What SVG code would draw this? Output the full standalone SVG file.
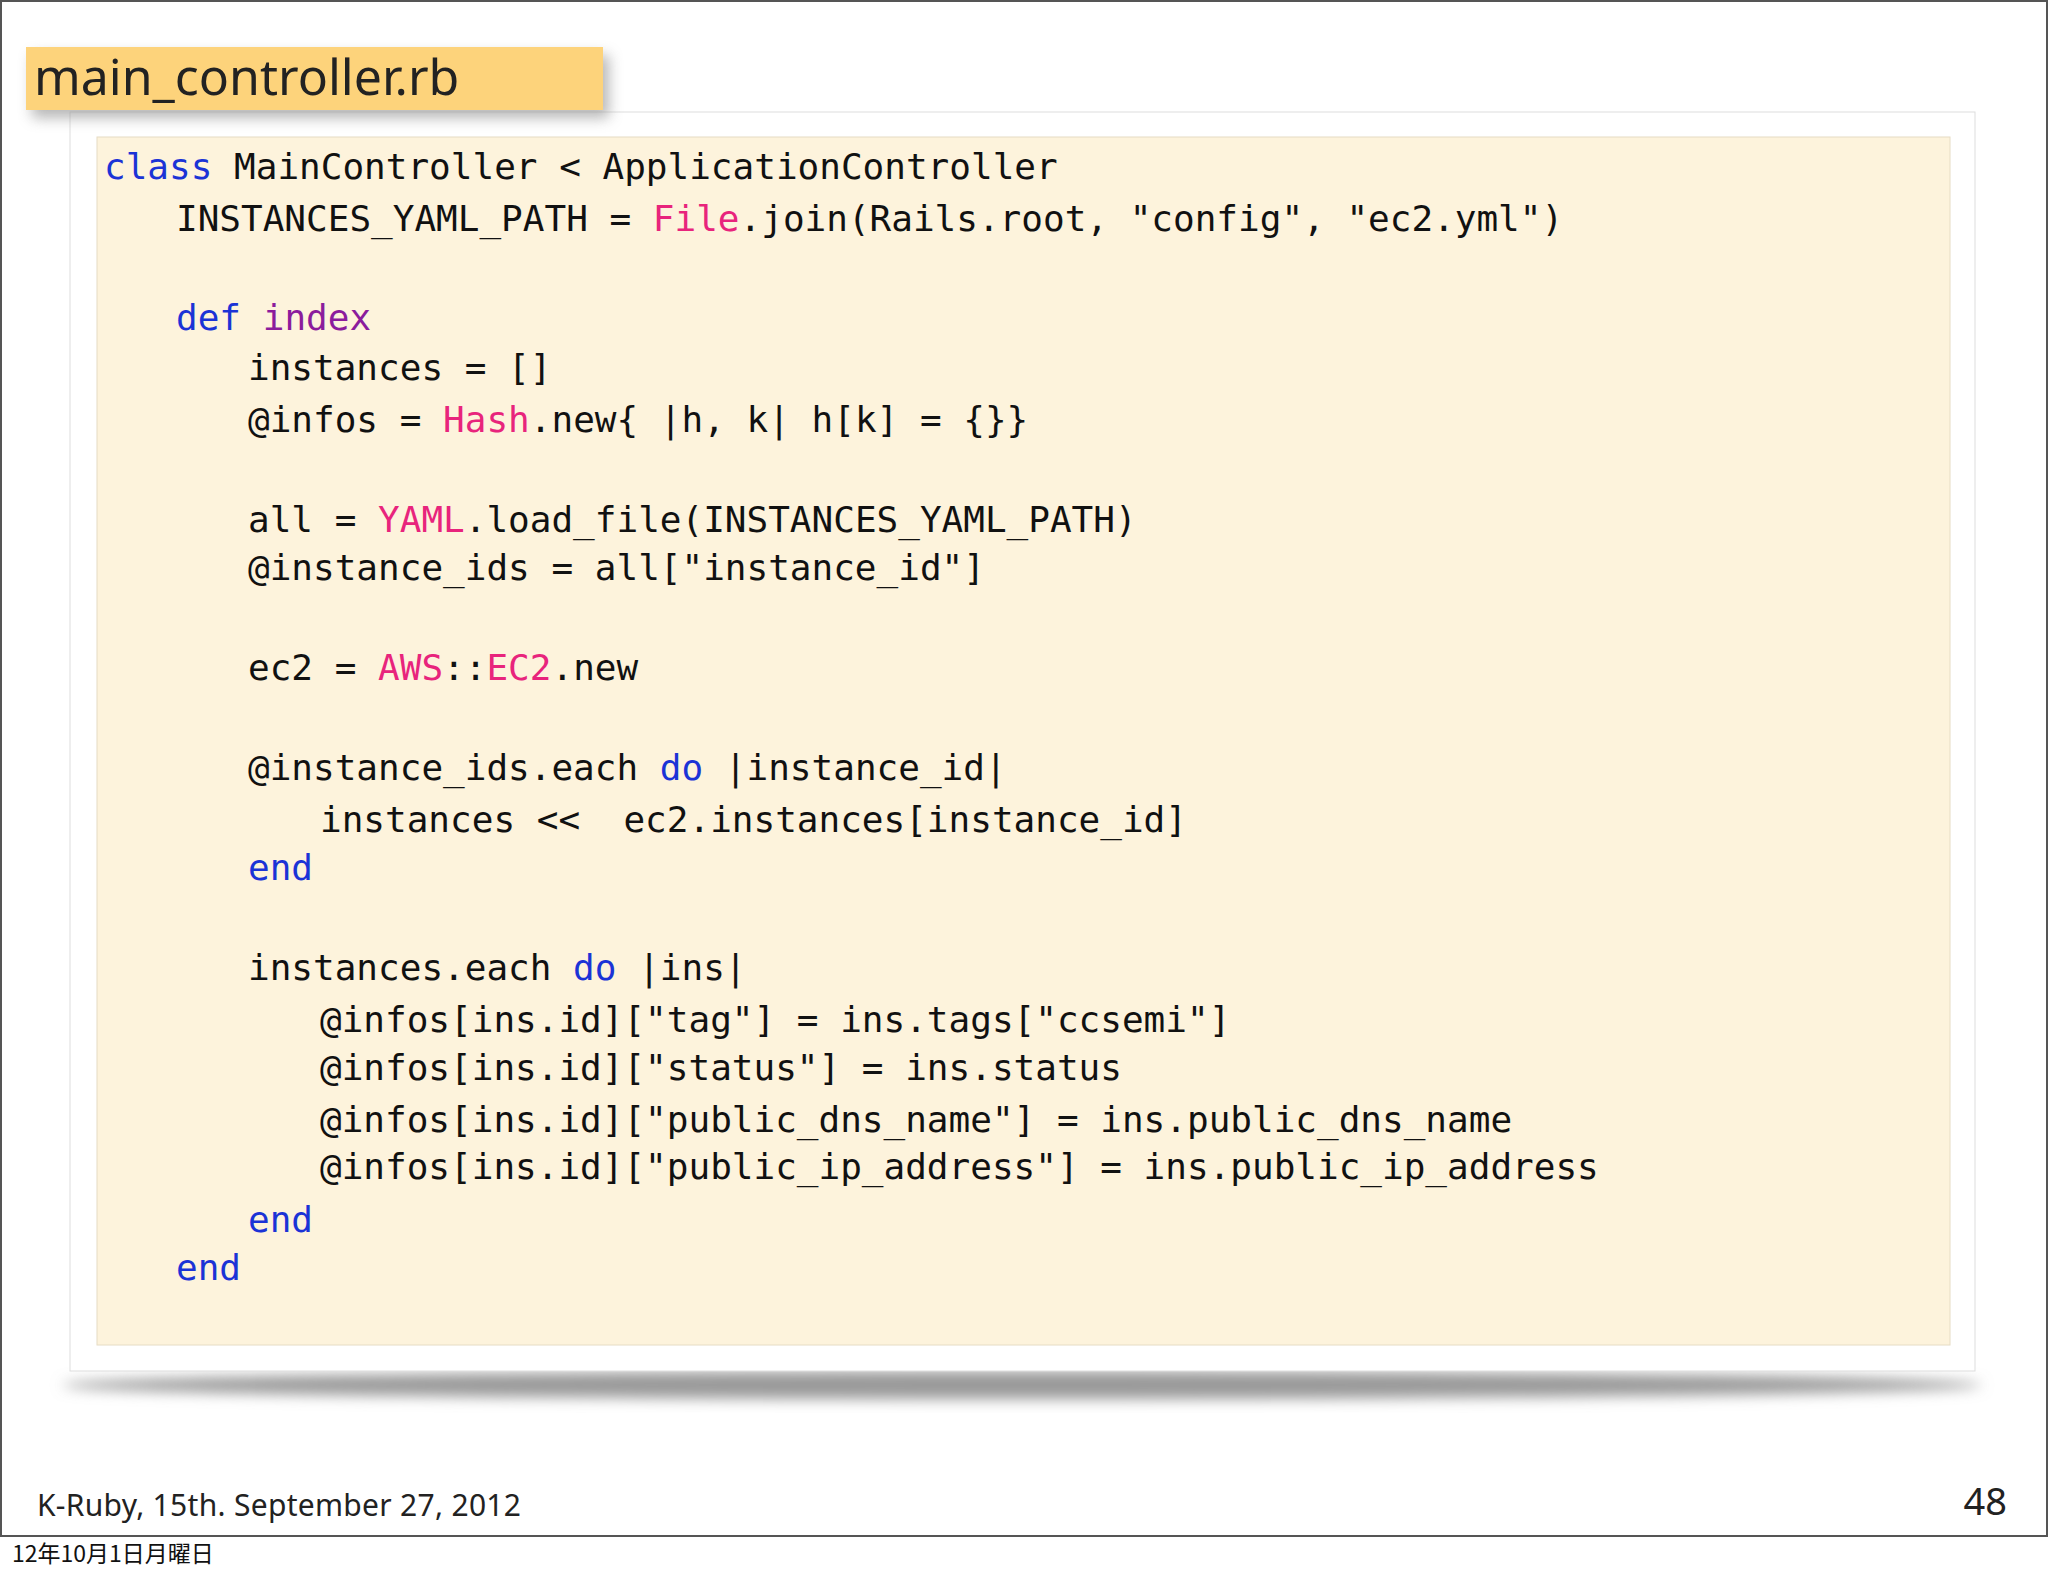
<svg xmlns="http://www.w3.org/2000/svg" width="2048" height="1576" viewBox="0 0 2048 1576">
<defs>
<style>
.c{font-family:"DejaVu Sans Mono","Liberation Mono",monospace;font-size:36px;fill:#111;white-space:pre}
.k{fill:#1b33d6}.m{fill:#8b1c9c}.p{fill:#e8247c}
.f{font-family:"Noto Sans","Liberation Sans",sans-serif;fill:#222}
</style>
<filter id="sh" x="-5%" y="-50%" width="110%" height="200%"><feGaussianBlur stdDeviation="7"/></filter>
</defs>
<rect x="0" y="0" width="2048" height="1576" fill="#fff"/>
<rect x="1" y="1" width="2046" height="1535" fill="#fff" stroke="#555" stroke-width="2"/>
<g id="card">
<ellipse cx="1022" cy="1385" rx="960" ry="14" fill="#999" filter="url(#sh)"/>
<rect x="70" y="112" width="1905" height="1259" fill="#fff" stroke="#ddd"/>
<rect x="97" y="137" width="1853" height="1208" fill="#fdf3dc" stroke="#e6dcc4"/>
</g>
<g id="title">
<rect x="32" y="55" width="577" height="63" fill="#999" filter="url(#sh)" opacity="0.7"/>
<rect x="26" y="47" width="577" height="63" fill="#fdd37b"/>
<text x="34" y="95" class="f" font-size="50" fill="#111">main_controller.rb</text>
</g>
<g id="code">
<text class="c" x="104" y="179"><tspan class="k">class</tspan> MainController &lt; ApplicationController</text>
<text class="c" x="176" y="231">INSTANCES_YAML_PATH = <tspan class="p">File</tspan>.join(Rails.root, "config", "ec2.yml")</text>
<text class="c" x="176" y="330"><tspan class="k">def</tspan> <tspan class="m">index</tspan></text>
<text class="c" x="248" y="380">instances = []</text>
<text class="c" x="248" y="432">@infos = <tspan class="p">Hash</tspan>.new{ |h, k| h[k] = {}}</text>
<text class="c" x="248" y="532">all = <tspan class="p">YAML</tspan>.load_file(INSTANCES_YAML_PATH)</text>
<text class="c" x="248" y="580">@instance_ids = all["instance_id"]</text>
<text class="c" x="248" y="680">ec2 = <tspan class="p">AWS</tspan>::<tspan class="p">EC2</tspan>.new</text>
<text class="c" x="248" y="780">@instance_ids.each <tspan class="k">do</tspan> |instance_id|</text>
<text class="c" x="320" y="832">instances &lt;&lt;  ec2.instances[instance_id]</text>
<text class="c k" x="248" y="880">end</text>
<text class="c" x="248" y="980">instances.each <tspan class="k">do</tspan> |ins|</text>
<text class="c" x="320" y="1032">@infos[ins.id]["tag"] = ins.tags["ccsemi"]</text>
<text class="c" x="320" y="1080">@infos[ins.id]["status"] = ins.status</text>
<text class="c" x="320" y="1132">@infos[ins.id]["public_dns_name"] = ins.public_dns_name</text>
<text class="c" x="320" y="1179">@infos[ins.id]["public_ip_address"] = ins.public_ip_address</text>
<text class="c k" x="248" y="1232">end</text>
<text class="c k" x="176" y="1280">end</text>
</g>
<g id="footer">
<text class="f" x="37" y="1516" font-size="30" textLength="484">K-Ruby, 15th. September 27, 2012</text>
<text class="f" x="2007" y="1515" font-size="38" text-anchor="end">48</text>
<text x="12" y="1562" font-family="'Noto Sans CJK JP',sans-serif" font-size="23" fill="#111">12年10月1日月曜日</text>
</g>
</svg>
